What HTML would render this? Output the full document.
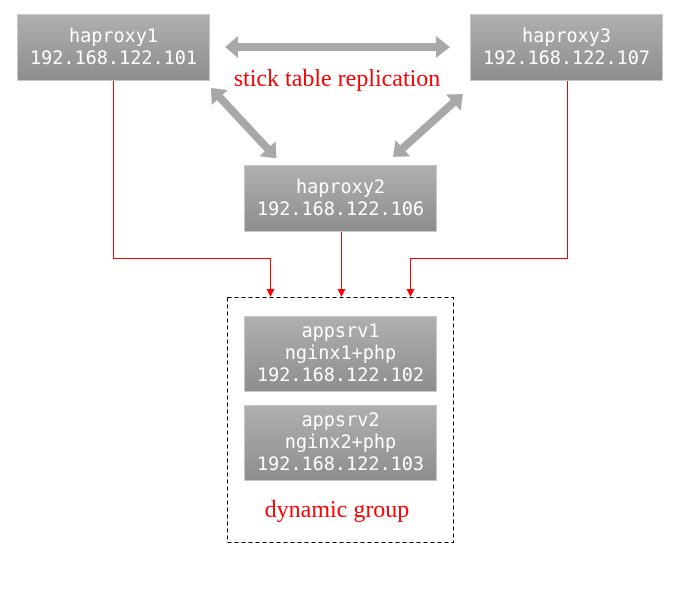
<!DOCTYPE html>
<html><head><style>
body{margin:0;background:#fff;width:682px;height:592px;overflow:hidden;position:relative;font-family:"DejaVu Sans Mono","Liberation Mono",monospace}
.b{position:absolute;width:193px;background:linear-gradient(#afafaf,#8e8e8e);border:1px solid #c8c8c8;box-sizing:border-box;color:#fff;font-size:18.5px;line-height:22px;text-align:center;display:flex;flex-direction:column;justify-content:center}
.r{position:absolute;color:#f00;font-family:"Liberation Serif",serif;font-size:24px;text-align:center;width:300px}
</style></head><body>
<svg width="682" height="592" style="position:absolute;left:0;top:0">
<defs><marker id="a" markerWidth="8" markerHeight="8" refX="7" refY="4" orient="auto" markerUnits="userSpaceOnUse"><path d="M0,0 L8,4 L0,8z" fill="#f00"/></marker></defs>
<g fill="none" stroke="#f00" stroke-width="1">
<polyline points="113.5,81 113.5,258.5 270.5,258.5 270.5,296" marker-end="url(#a)"/>
<polyline points="341.5,232 341.5,296" marker-end="url(#a)"/>
<polyline points="567.5,81 567.5,258.5 410.5,258.5 410.5,296" marker-end="url(#a)"/>
</g>
<rect x="227.5" y="297.5" width="226" height="245" fill="none" stroke="#000" stroke-dasharray="4,3"/>
<g fill="#a8a8a8">
<path d="M225,47 L238,36 L238,43 L436,43 L436,36 L450,47 L436,58 L436,51 L238,51 L238,58Z"/>
<g transform="translate(211,88) rotate(47)"><path d="M0,0 L13,-11 L13,-4 L83,-4 L83,-11 L96,0 L83,11 L83,4 L13,4 L13,11Z"/></g>
<g transform="translate(463,94) rotate(138)"><path d="M0,0 L13,-11 L13,-4 L81,-4 L81,-11 L94,0 L81,11 L81,4 L13,4 L13,11Z"/></g>
</g>
</svg>
<div class="b" style="left:17px;top:14px;height:67px">haproxy1<br>192.168.122.101</div>
<div class="b" style="left:470px;top:14px;height:67px">haproxy3<br>192.168.122.107</div>
<div class="b" style="left:244px;top:165px;height:67px">haproxy2<br>192.168.122.106</div>
<div class="b" style="left:244px;top:316px;height:76px">appsrv1<br>nginx1+php<br>192.168.122.102</div>
<div class="b" style="left:244px;top:405px;height:76px">appsrv2<br>nginx2+php<br>192.168.122.103</div>
<div class="r" style="left:187px;top:66px">stick table replication</div>
<div class="r" style="left:187px;top:497px">dynamic group</div>
</body></html>
